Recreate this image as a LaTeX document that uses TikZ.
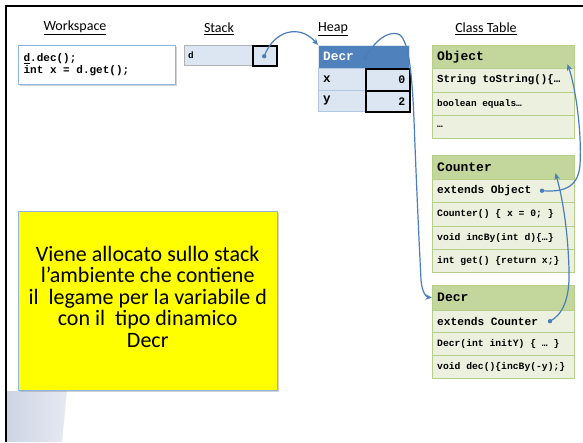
\documentclass[tikz,border=0pt]{standalone}
\usepackage{fontspec}
\setmainfont{Carlito}
\newfontfamily\codefont{Liberation Mono}
\usetikzlibrary{arrows.meta,shadows}

% bold monospaced text with fixed-width spaces
\newcommand\codeset[2]{\codefont\bfseries\fontsize{#1}{#2}\selectfont\spaceskip=0.6em\relax}

\definecolor{linkblue}{HTML}{4A7EBB}
\definecolor{heaphead}{HTML}{4F81BD}
\definecolor{heapcell}{HTML}{DCE6F2}
\definecolor{greenhead}{HTML}{C3D69B}
\definecolor{greencell}{HTML}{EBF1DE}
\definecolor{greenline}{HTML}{B5CF8A}
\definecolor{boxline}{HTML}{8EB4E3}
\definecolor{notefill}{HTML}{FFFF00}
\definecolor{bandleft}{HTML}{CDD4E4}
\definecolor{bandright}{HTML}{E6E9F1}

\tikzset{
  heading/.style={font=\fontsize{14}{16}\selectfont},
  codesz/.style={font=\codeset{#1}{#1}},
  wsbox/.style={draw=boxline, line width=1.2pt, fill=white, anchor=north west,
    drop shadow={shadow xshift=1.5pt, shadow yshift=-1.5pt, opacity=0.35},
    text width=147pt, inner xsep=5pt, align=flush left,
    font=\codeset{11}{12}},
  stcell/.style={draw=gray!60, fill=heapcell, anchor=north west, text width=60pt,
    inner xsep=4pt, align=flush left, minimum height=20pt, codesz=9.3},
  refbox/.style={draw=black, line width=2.4pt, fill=heapcell, anchor=north west},
  hhead/.style={draw=heapcell, fill=heaphead, text=white, anchor=north west,
    text width=81pt, inner xsep=5pt, align=flush left, minimum height=23pt, codesz=12.8},
  hcell/.style={draw=heapcell!70!heaphead, fill=heapcell, anchor=north west,
    text width=37pt, inner xsep=5pt, align=flush left, codesz=12.5},
  hval/.style={refbox, text width=34pt, inner xsep=5pt, align=flush right, codesz=11.5},
  chead/.style={draw=greenline, fill=greenhead, anchor=north west, text width=132pt,
    inner xsep=5pt, align=flush left, codesz=13},
  crow/.style={draw=greenline, fill=greencell, anchor=north west, text width=132pt,
    inner xsep=5pt, align=flush left},
  notebox/.style={draw=boxline, fill=notefill, anchor=north west,
    drop shadow={shadow xshift=1.5pt, shadow yshift=-2pt, opacity=0.35}},
  notetext/.style={text width=257pt, align=flush center,
    font=\fontsize{22}{21.5}\selectfont},
  link/.style={draw=linkblue, line width=1.2pt, -{Stealth[length=6.5pt,width=5.5pt]}},
  linkdot/.style={fill=linkblue}
}

\begin{document}
\begin{tikzpicture}[x=1pt, y=-1pt]
\useasboundingbox (0,0) rectangle (583,442);

% shaded corner band at the lower left
\shade[left color=bandleft, right color=bandright]
  (7,391) -- (67,391) -- (62,442) -- (7,442) -- cycle;

% column headings
\node[heading] (wslabel) at (75,28) {\underline{Workspace}};
\node[heading] (stlabel) at (219,29) {\underline{Stack}};
\node[heading] (hplabel) at (333,29) {\underline{Heap}};
\node[heading] (ctlabel) at (486,29) {\underline{Class Table}};

% workspace
\node[wsbox, minimum width=157pt, minimum height=39pt] (ws) at (18,45)
  {\underline{d}.dec();\\int x = d.get();};

% stack frame
\node[stcell, minimum width=68pt] (sd) at (184,45) {d};
\node[refbox, minimum width=24pt, minimum height=20pt] (sv) at (252,45) {};

% heap object
\node[hhead, minimum width=91pt] (hh) at (318,45) {Decr};
\node[hcell, minimum width=47pt, minimum height=22pt] (hx) at (318,68) {x};
\node[hval, minimum width=44pt, minimum height=22pt] (hxv) at (365,68) {0};
\node[hcell, minimum width=47pt, minimum height=21pt] (hy) at (318,90) {y};
\node[hval, minimum width=44pt, minimum height=21pt] (hyv) at (365,90) {2};

% class table: Object
\node[chead, minimum height=23pt] (oh) at (432,45) {Object};
\node[crow, codesz=10.8, minimum height=24pt] (o1) at (432,68) {String toString()\{…};
\node[crow, codesz=9.4, minimum height=23pt] (o2) at (432,92) {boolean equals…};
\node[crow, codesz=9.4, minimum height=23pt] (o3) at (432,115) {…};

% class table: Counter
\node[chead, minimum height=24pt] (ch) at (432,155) {Counter};
\node[crow, codesz=11.2, minimum height=23pt] (c1) at (432,179) {extends Object};
\node[crow, codesz=9.7, minimum height=24pt] (c2) at (432,202) {Counter() \{ x = 0; \}};
\node[crow, codesz=9.7, minimum height=23pt] (c3) at (432,226) {void incBy(int d)\{…\}};
\node[crow, codesz=9.7, minimum height=23pt] (c4) at (432,249) {int get() \{return x;\}};

% class table: Decr
\node[chead, minimum height=25pt] (dh) at (432,285) {Decr};
\node[crow, codesz=11.2, minimum height=22pt] (d1) at (432,310) {extends Counter};
\node[crow, codesz=9.7, minimum height=23pt] (d2) at (432,332) {Decr(int initY) \{ … \}};
\node[crow, codesz=9.7, minimum height=23pt] (d3) at (432,355) {void dec()\{incBy(-y);\}};

% explanation note
\node[notebox, minimum width=259pt, minimum height=179pt] (note) at (18,211) {};
\node[notetext] (notetxt) at ([yshift=4pt]note.center)
  {Viene allocato sullo stack\\
   l’ambiente che contiene\\
   il\ \ legame per la variabile d\\
   con il\ \ tipo dinamico\\
   Decr};

% reference links
\coordinate (sdot) at ([xshift=-1pt]sv.center);
\coordinate (hdot) at ([xshift=47pt,yshift=-1.5pt]hh.west);
\coordinate (odot) at ([xshift=110pt]c1.west);
\coordinate (cdot) at ([xshift=118pt]d1.west);
\coordinate (otip) at ([xshift=-7pt,yshift=-7.5pt]oh.east);
\coordinate (ctip) at ([xshift=-19pt,yshift=-6pt]ch.east);

\foreach \p in {sdot,hdot,odot,cdot} \fill[linkdot] (\p) circle (2.2);

\draw[link] (sdot) .. controls (274,30) and (300,24) .. (hh.north west);
\draw[link] (hdot) .. controls (375,40) and (388,31) .. (398,34)
  .. controls (408,37) and (412,70) .. (414,120)
  .. controls (417,200) and (420,260) .. (421,280)
  .. controls (422,292) and (426,297) .. (dh.west);
\draw[link] (odot) .. controls (560,192) and (578,190) .. (580,165)
  .. controls (582,130) and (575,85) .. (otip);
\draw[link] (cdot) .. controls (562,315) and (570,300) .. (569,270)
  .. controls (568,230) and (562,195) .. (ctip);

% slide frame
\draw[line width=2pt] (6,442) -- (6,6) -- (583,6);
\end{tikzpicture}
\end{document}
